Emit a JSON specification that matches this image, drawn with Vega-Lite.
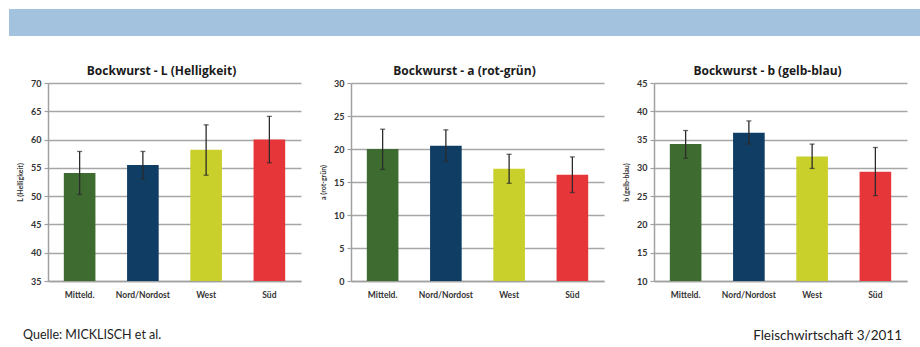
{
  "$schema": "https://vega.github.io/schema/vega-lite/v6.json",
  "background": "white",
  "padding": {"left": 9, "top": 9, "right": 0, "bottom": 0},
  "config": {
    "font": "Lato",
    "view": {"stroke": null},
    "title": {"font": "Open Sans", "fontSize": 12, "fontWeight": "bold", "color": "#1a1a1a", "offset": 1.5, "dx": -13},
    "axisY": {
      "grid": true, "gridColor": "#a6a6a6", "gridWidth": 1.5,
      "domain": true, "domainColor": "#a0a0a0", "domainWidth": 1.5,
      "ticks": true, "tickColor": "#a0a0a0", "tickSize": 4, "tickWidth": 1.2,
      "labelOverlap": false,
      "labelFont": "Lato", "labelFontSize": 9, "labelFontWeight": "bold", "labelColor": "#333333", "labelPadding": 3,
      "titleFont": "Lato", "titleFontSize": 7, "titleFontWeight": "bold", "titleColor": "#333333", "titlePadding": 7
    },
    "axisX": {
      "grid": false, "domain": true, "domainColor": "#a0a0a0", "domainWidth": 1.5,
      "ticks": false, "labelAngle": 0, "labelPadding": 9, "title": null,
      "labelFont": "Lato", "labelFontSize": 8.5, "labelFontWeight": "bold", "labelColor": "#333333"
    }
  },
  "title": {
    "text": "Fleischwirtschaft 3/2011", "orient": "bottom", "anchor": "end",
    "font": "Lato", "fontSize": 13.5, "fontWeight": "normal", "color": "#222222", "offset": 0, "dx": -18, "dy": -12
  },
  "spacing": 28,
  "vconcat": [
    {
      "width": 911, "height": 27,
      "view": {"fill": "#a3c2de", "stroke": null},
      "data": {"values": [{}]},
      "mark": {"type": "text", "text": ""}
    },
    {
      "bounds": "flush",
      "spacing": 1,
      "title": {
        "text": "Quelle: MICKLISCH et al.", "orient": "bottom", "anchor": "start",
        "font": "Lato", "fontSize": 12.5, "fontWeight": "normal", "color": "#222222", "offset": 30, "dx": 14
      },
      "hconcat": [
        {
          "width": 38, "height": 198,
          "data": {"values": [{}]},
          "mark": {"type": "text", "text": ""}
        },
        {
          "bounds": "flush",
          "spacing": 50,
          "hconcat": [
            {
              "width": 253, "height": 198,
              "title": "Bockwurst - L (Helligkeit)",
              "data": {"values": [
                {"region": "Mitteld.", "mean": 54.1, "lo": 50.3, "hi": 57.9},
                {"region": "Nord/Nordost", "mean": 55.5, "lo": 53.0, "hi": 57.9},
                {"region": "West", "mean": 58.2, "lo": 53.7, "hi": 62.6},
                {"region": "Süd", "mean": 60.0, "lo": 55.9, "hi": 64.1}
              ]},
              "encoding": {
                "x": {"field": "region", "type": "nominal", "sort": null,
                      "scale": {"paddingInner": 0.5, "paddingOuter": 0.25}}
              },
              "layer": [
                {
                  "mark": {"type": "bar"},
                  "encoding": {
                    "y": {"field": "mean", "type": "quantitative",
                          "scale": {"domain": [35, 70], "nice": false, "zero": false},
                          "axis": {"title": "L (Helligkeit)", "values": [35, 40, 45, 50, 55, 60, 65, 70]}},
                    "y2": {"datum": 35},
                    "color": {"field": "region", "type": "nominal", "legend": null,
                              "scale": {"domain": ["Mitteld.", "Nord/Nordost", "West", "Süd"],
                                        "range": ["#3e6b30", "#0f3d63", "#c9cf2b", "#e6363a"]}}
                  }
                },
                {
                  "mark": {"type": "rule", "color": "#2b2b2b", "strokeWidth": 1.3},
                  "encoding": {"y": {"field": "lo", "type": "quantitative",
                                     "axis": {"title": "L (Helligkeit)", "values": [35, 40, 45, 50, 55, 60, 65, 70]}},
                               "y2": {"field": "hi"}}
                },
                {
                  "mark": {"type": "tick", "color": "#2b2b2b", "size": 5, "thickness": 1.3},
                  "encoding": {"y": {"field": "lo", "type": "quantitative",
                                     "axis": {"title": "L (Helligkeit)", "values": [35, 40, 45, 50, 55, 60, 65, 70]}}}
                },
                {
                  "mark": {"type": "tick", "color": "#2b2b2b", "size": 5, "thickness": 1.3},
                  "encoding": {"y": {"field": "hi", "type": "quantitative",
                                     "axis": {"title": "L (Helligkeit)", "values": [35, 40, 45, 50, 55, 60, 65, 70]}}}
                }
              ]
            },
            {
              "width": 253, "height": 198,
              "title": "Bockwurst - a (rot-grün)",
              "data": {"values": [
                {"region": "Mitteld.", "mean": 20.0, "lo": 16.9, "hi": 23.0},
                {"region": "Nord/Nordost", "mean": 20.5, "lo": 18.1, "hi": 22.9},
                {"region": "West", "mean": 17.0, "lo": 14.8, "hi": 19.2},
                {"region": "Süd", "mean": 16.1, "lo": 13.4, "hi": 18.8}
              ]},
              "encoding": {
                "x": {"field": "region", "type": "nominal", "sort": null,
                      "scale": {"paddingInner": 0.5, "paddingOuter": 0.25}}
              },
              "layer": [
                {
                  "mark": {"type": "bar"},
                  "encoding": {
                    "y": {"field": "mean", "type": "quantitative",
                          "scale": {"domain": [0, 30], "nice": false},
                          "axis": {"title": "a (rot-grün)", "values": [0, 5, 10, 15, 20, 25, 30]}},
                    "y2": {"datum": 0},
                    "color": {"field": "region", "type": "nominal", "legend": null,
                              "scale": {"domain": ["Mitteld.", "Nord/Nordost", "West", "Süd"],
                                        "range": ["#3e6b30", "#0f3d63", "#c9cf2b", "#e6363a"]}}
                  }
                },
                {
                  "mark": {"type": "rule", "color": "#2b2b2b", "strokeWidth": 1.3},
                  "encoding": {"y": {"field": "lo", "type": "quantitative",
                                     "axis": {"title": "a (rot-grün)", "values": [0, 5, 10, 15, 20, 25, 30]}},
                               "y2": {"field": "hi"}}
                },
                {
                  "mark": {"type": "tick", "color": "#2b2b2b", "size": 5, "thickness": 1.3},
                  "encoding": {"y": {"field": "lo", "type": "quantitative",
                                     "axis": {"title": "a (rot-grün)", "values": [0, 5, 10, 15, 20, 25, 30]}}}
                },
                {
                  "mark": {"type": "tick", "color": "#2b2b2b", "size": 5, "thickness": 1.3},
                  "encoding": {"y": {"field": "hi", "type": "quantitative",
                                     "axis": {"title": "a (rot-grün)", "values": [0, 5, 10, 15, 20, 25, 30]}}}
                }
              ]
            },
            {
              "width": 253, "height": 198,
              "title": "Bockwurst - b (gelb-blau)",
              "data": {"values": [
                {"region": "Mitteld.", "mean": 34.2, "lo": 31.7, "hi": 36.6},
                {"region": "Nord/Nordost", "mean": 36.2, "lo": 34.2, "hi": 38.3},
                {"region": "West", "mean": 32.0, "lo": 29.9, "hi": 34.2},
                {"region": "Süd", "mean": 29.3, "lo": 25.1, "hi": 33.6}
              ]},
              "encoding": {
                "x": {"field": "region", "type": "nominal", "sort": null,
                      "scale": {"paddingInner": 0.5, "paddingOuter": 0.25}}
              },
              "layer": [
                {
                  "mark": {"type": "bar"},
                  "encoding": {
                    "y": {"field": "mean", "type": "quantitative",
                          "scale": {"domain": [10, 45], "nice": false, "zero": false},
                          "axis": {"title": "b (gelb-blau)", "values": [10, 15, 20, 25, 30, 35, 40, 45]}},
                    "y2": {"datum": 10},
                    "color": {"field": "region", "type": "nominal", "legend": null,
                              "scale": {"domain": ["Mitteld.", "Nord/Nordost", "West", "Süd"],
                                        "range": ["#3e6b30", "#0f3d63", "#c9cf2b", "#e6363a"]}}
                  }
                },
                {
                  "mark": {"type": "rule", "color": "#2b2b2b", "strokeWidth": 1.3},
                  "encoding": {"y": {"field": "lo", "type": "quantitative",
                                     "axis": {"title": "b (gelb-blau)", "values": [10, 15, 20, 25, 30, 35, 40, 45]}},
                               "y2": {"field": "hi"}}
                },
                {
                  "mark": {"type": "tick", "color": "#2b2b2b", "size": 5, "thickness": 1.3},
                  "encoding": {"y": {"field": "lo", "type": "quantitative",
                                     "axis": {"title": "b (gelb-blau)", "values": [10, 15, 20, 25, 30, 35, 40, 45]}}}
                },
                {
                  "mark": {"type": "tick", "color": "#2b2b2b", "size": 5, "thickness": 1.3},
                  "encoding": {"y": {"field": "hi", "type": "quantitative",
                                     "axis": {"title": "b (gelb-blau)", "values": [10, 15, 20, 25, 30, 35, 40, 45]}}}
                }
              ]
            }
          ]
        }
      ]
    }
  ]
}
